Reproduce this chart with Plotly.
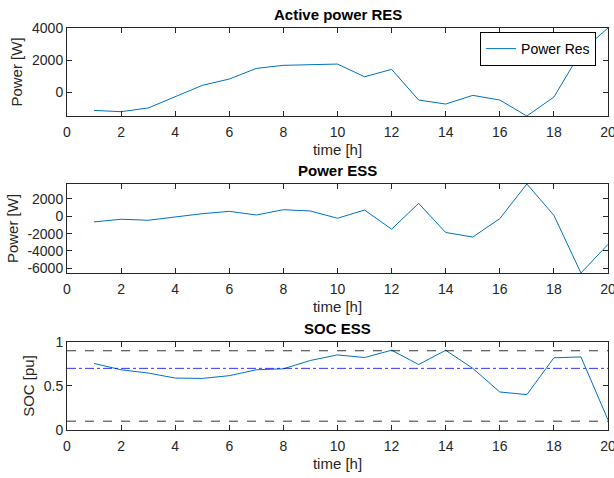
import plotly.graph_objects as go

hours = list(range(1, 21))
power_res = [-1120, -1200, -970, -250, 435, 830, 1490, 1680, 1720, 1760,
             970, 1430, -475, -725, -185, -475, -1470, -290, 2520, 4000]
power_ess = [-650, -340, -460, -40, 300, 570, 150, 760, 610, -230,
             720, -1490, 1490, -1870, -2400, -270, 3730, 110, -6550, -3240]
soc = [0.756, 0.684, 0.647, 0.59, 0.586, 0.617, 0.684, 0.695, 0.79, 0.853,
       0.823, 0.906, 0.744, 0.906, 0.70, 0.432, 0.402, 0.82, 0.83, 0.115]
soc_max = 0.9
soc_min = 0.1
soc_ref = 0.7
x_limits = [0, 20]
x_ticks = [0, 2, 4, 6, 8, 10, 12, 14, 16, 18, 20]
y1_ticks = [0, 2000, 4000]
y2_ticks = [-6000, -4000, -2000, 0, 2000]
y3_ticks = [0, 0.5, 1]
titles = ["Active power RES", "Power ESS", "SOC ESS"]

BLUE = "#0072BD"
AX = "#262626"
FONT = "Liberation Sans, Arial, Helvetica, sans-serif"

fig = go.Figure()
fig.add_trace(go.Scatter(x=hours, y=power_res, mode="lines", name="Power Res",
                         line=dict(color=BLUE, width=1), xaxis="x", yaxis="y"))
fig.add_trace(go.Scatter(x=hours, y=power_ess, mode="lines", showlegend=False,
                         line=dict(color=BLUE, width=1), xaxis="x2", yaxis="y2"))
fig.add_trace(go.Scatter(x=hours, y=soc, mode="lines", showlegend=False,
                         line=dict(color=BLUE, width=1), xaxis="x3", yaxis="y3"))
for val, col, dash in [(soc_max, "#000000", "dash"), (soc_min, "#000000", "dash"),
                       (soc_ref, "#0000FF", "dashdot")]:
    fig.add_trace(go.Scatter(x=x_limits, y=[val, val], mode="lines", showlegend=False,
                             line=dict(color=col, width=0.8, dash=dash),
                             xaxis="x3", yaxis="y3"))

domains = [[0.781, 1.0], [0.3905, 0.612], [0.0, 0.219]]
yranges = [[min(power_res), max(power_res)], [min(power_ess), max(power_ess)], [0, 1]]
ytitles = ["Power [W]", "Power [W]", "SOC [pu]"]
yticks = [y1_ticks, y2_ticks, y3_ticks]

common = dict(showline=True, linecolor=AX, linewidth=1, mirror="ticks",
              ticks="inside", ticklen=5, tickcolor=AX, showgrid=False,
              zeroline=False, automargin=False, ticklabeloverflow="allow",
              tickfont=dict(family=FONT, size=14, color=AX))

layout = dict(width=614, height=478, plot_bgcolor="white", paper_bgcolor="white",
              margin=dict(l=67, r=6, t=28, b=48, autoexpand=False),
              font=dict(family=FONT, color=AX),
              showlegend=True,
              legend=dict(x=0.978, y=0.99, xanchor="right", yanchor="top",
                          bordercolor="#000000", borderwidth=1, bgcolor="white",
                          font=dict(family=FONT, size=14, color="#000000")))
annotations = []
for i in range(3):
    sx = "" if i == 0 else str(i + 1)
    layout["xaxis" + sx] = dict(domain=[0, 1], range=x_limits, tickvals=x_ticks,
                                anchor="y" + sx, ticklabelstandoff=3,
                                title=dict(text="time [h]", font=dict(family=FONT, size=15, color=AX),
                                           standoff=5), **common)
    layout["yaxis" + sx] = dict(domain=domains[i], range=yranges[i], tickvals=yticks[i],
                                ticktext=[str(v) for v in yticks[i]],
                                anchor="x" + sx,
                                title=dict(text=ytitles[i], font=dict(family=FONT, size=15, color=AX),
                                           standoff=5), **common)
    annotations.append(dict(text="<b>" + titles[i] + "</b>", x=0.5, xref="paper",
                            y=domains[i][1], yref="paper", yanchor="bottom", showarrow=False,
                            yshift=3, font=dict(family=FONT, size=15, color="#000000")))
layout["annotations"] = annotations
fig.update_layout(**layout)
fig.write_html("out.html", config={"displayModeBar": False},
               post_script="document.body.style.margin='0';document.body.style.overflow='hidden';")
